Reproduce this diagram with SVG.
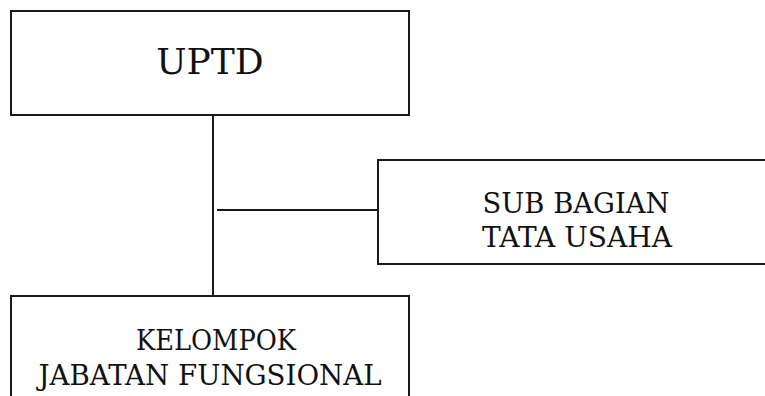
<svg xmlns="http://www.w3.org/2000/svg" width="765" height="396" viewBox="0 0 765 396">
<style>
.box{fill:#fff;stroke:#1a1a1a;stroke-width:2}
.conn{stroke:#1a1a1a;stroke-width:2;fill:none}
.t{font-family:"DejaVu Serif","Liberation Serif",serif;fill:#111;text-anchor:middle}
.big{font-size:36px}
.sm{font-size:28px}
</style>
<rect width="765" height="396" fill="#fff"/>
<g id="connectors">
<line class="conn" x1="213" y1="115" x2="213" y2="296"/>
<line class="conn" x1="217" y1="210" x2="378" y2="210"/>
</g>
<g id="uptd">
<rect class="box" x="11" y="11" width="398" height="104"/>
<text class="t big" x="210" y="74">UPTD</text>
</g>
<g id="subbagian">
<rect class="box" x="378" y="160" width="400" height="104"/>
<text class="t sm" x="576" y="213" textLength="187" lengthAdjust="spacingAndGlyphs">SUB BAGIAN</text>
<text class="t sm" x="577" y="247" textLength="190" lengthAdjust="spacingAndGlyphs">TATA USAHA</text>
</g>
<g id="kelompok">
<rect class="box" x="11" y="296" width="398" height="110"/>
<text class="t sm" x="216" y="350" textLength="160" lengthAdjust="spacingAndGlyphs">KELOMPOK</text>
<text class="t sm" x="210" y="385" textLength="343" lengthAdjust="spacingAndGlyphs">JABATAN FUNGSIONAL</text>
</g>
</svg>
